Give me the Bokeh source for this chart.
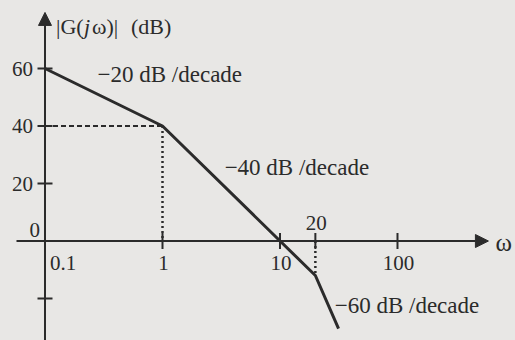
import math
from bokeh.plotting import figure
from bokeh.models import Arrow, NormalHead
from bokeh.core.properties import value
from bokeh.embed import file_html
from bokeh.resources import INLINE

# ---- data ----
omega_pts = [0.1, 1, 20, 31.5]
mag_db = [60, 40, -12, -30.5]

y_ticks = [60, 40, 20, -20]
y_tick_labels = ["60", "40", "20"]
x_ticks = [1, 10, 20, 100]
x_label_pos = [0.1, 1, 10, 100]
x_labels = ["0.1", "1", "10", "100"]
slope_text = ["\u221220 dB /decade", "\u221240 dB /decade", "\u221260 dB /decade"]
slope_w = [0.28, 3.38, 29.2]
slope_db = [57.9, 25.6, -22.4]

BG = "#e8e7e5"
INK = "#2b2b2b"
FONT = value("Liberation Serif")

p = figure(width=515, height=340, x_axis_type="log",
           x_range=(0.04181, 1010), y_range=(-34.6, 83.65),
           min_border=0, output_backend="svg", toolbar_location=None)
p.axis.visible = False
p.grid.visible = False
p.outline_line_color = None
p.background_fill_color = BG
p.border_fill_color = BG

# axes with arrows
p.add_layout(Arrow(x_start=0.0572, y_start=0, x_end=594, y_end=0,
                   line_color=INK, line_width=2,
                   end=NormalHead(size=13, fill_color=INK, line_color=INK)))
p.add_layout(Arrow(x_start=0.1, y_start=-40, x_end=0.1, y_end=79.5,
                   line_color=INK, line_width=2,
                   end=NormalHead(size=13, fill_color=INK, line_color=INK)))

# ticks
p.scatter([0.1] * len(y_ticks), y_ticks, marker="dash", size=15,
          line_color=INK, line_width=2)
p.scatter(x_ticks, [0] * len(x_ticks), marker="dash", size=16, angle=math.pi / 2,
          line_color=INK, line_width=2)

# guide lines
p.line([omega_pts[0], omega_pts[1]], [mag_db[1], mag_db[1]], line_color=INK,
       line_width=2, line_dash="5 3")
p.line([omega_pts[1], omega_pts[1]], [mag_db[1], 0], line_color=INK,
       line_width=2.5, line_dash="2 3")
p.line([omega_pts[2], omega_pts[2]], [0, mag_db[2]], line_color=INK,
       line_width=2.5, line_dash="2 3")

# asymptotic magnitude curve
p.line(omega_pts, mag_db, line_color=INK, line_width=3)

# tick labels
p.text([0.1] * 3, y_ticks[:3], text=y_tick_labels, x_offset=-12,
       text_align="right", text_baseline="middle", text_font=FONT,
       text_font_size="21px", text_color=INK)
p.text([0.1], [0], text=["0"], x_offset=-5, y_offset=-11,
       text_align="right", text_baseline="middle", text_font=FONT,
       text_font_size="21px", text_color=INK)
p.text([x_label_pos[0]], [0], text=[x_labels[0]], x_offset=5, y_offset=22,
       text_align="left", text_baseline="middle", text_font=FONT,
       text_font_size="21px", text_color=INK)
p.text(x_label_pos[1:], [0] * 3, text=x_labels[1:], x_offset=1, y_offset=22,
       text_align="center", text_baseline="middle", text_font=FONT,
       text_font_size="21px", text_color=INK)
p.text([20], [0], text=["20"], x_offset=1, y_offset=-18,
       text_align="center", text_baseline="middle", text_font=FONT,
       text_font_size="21px", text_color=INK)

# omega axis label
p.text([594], [0], text=["\u03c9"], x_offset=7, y_offset=1,
       text_align="left", text_baseline="middle", text_font=FONT,
       text_font_size="25px", text_color=INK)

# y axis title |G(jw)| (dB)
p.text([0.1] * 4, [83.65] * 4, text=["|G(", "j", "\u03c9)|", "(dB)"],
       x_offset=[11, 39, 47, 86], y_offset=[26, 26, 26, 26],
       text_align="left", text_baseline="middle", text_font=FONT,
       text_font_style=["normal", "italic", "normal", "normal"],
       text_font_size="22px", text_color=INK)

# slope annotations
p.text(slope_w, slope_db, text=slope_text, text_align="left",
       text_baseline="middle", text_font=FONT, text_font_size="23px",
       text_color=INK)

html = file_html(p, INLINE)
html = html.replace("<body>", '<body style="background:%s">' % BG)
open("out.html", "w").write(html)
